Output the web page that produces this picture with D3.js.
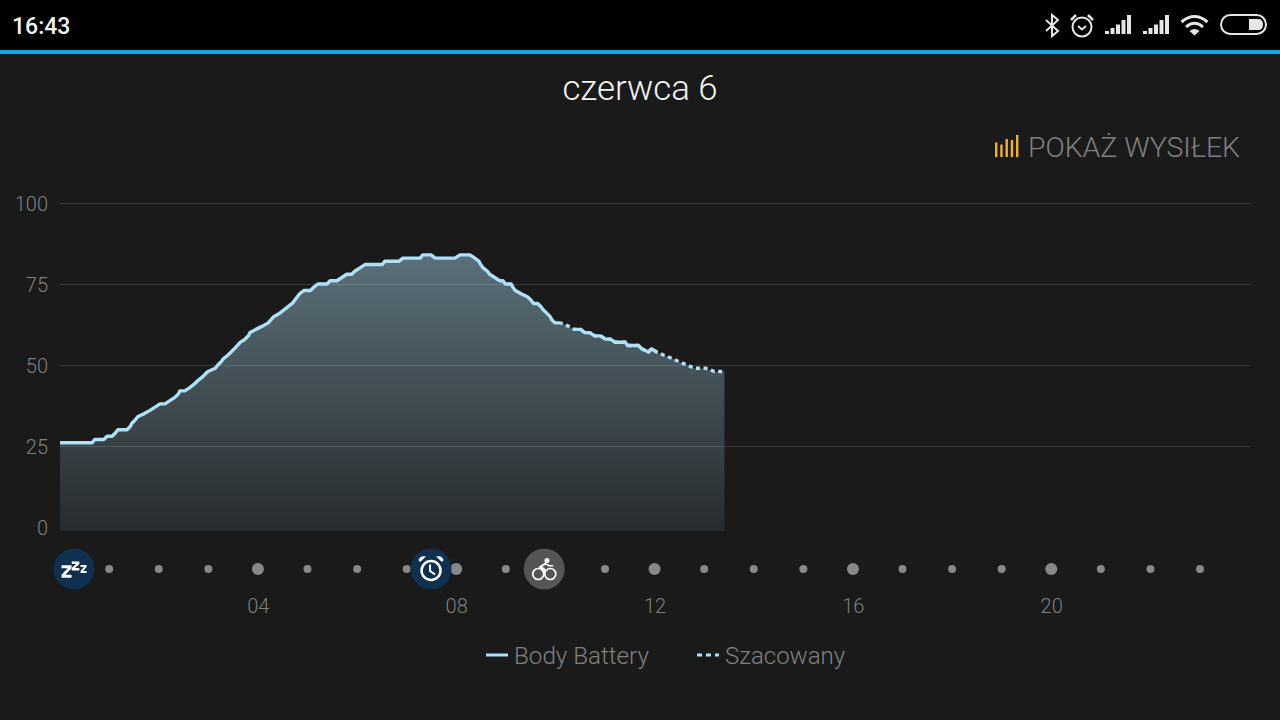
<!DOCTYPE html>
<html><head><meta charset="utf-8">
<script src="https://cdn.jsdelivr.net/npm/d3@7/dist/d3.min.js"></script>
<style>
html,body{margin:0;padding:0;background:#1a1a1a;overflow:hidden}
svg{display:block}
text{font-family:Roboto,sans-serif}
</style></head><body>
<svg id="c" width="1280" height="720"></svg>
<script>
const minutes=[0,39,42,53,57,63,67,70,81,85,87,91,94,102,109,115,121,127,133,139,143,145,151,157,162,166,171,175,179,188,191,195,198,203,207,211,218,224,228,230,237,245,252,259,266,271,276,281,287,290,295,303,307,312,323,327,335,341,347,353,357,363,369,390,393,410,415,436,439,449,454,478,484,496,502,507,509,512,517,520,526,532,536,539,546,548,551,558,566,570,573,578,582,585,589,593,595,599,606,615,622,630,635,641,647,654,660,666,672,684,687,700,704,712,716,722,731,741,749,759,768,781,792,801,804];
const values=[26,26,27,27,28,28,29,30,30,31,32,33,34,35,36,37,38,38,39,40,41,42,42,43,44,45,46,47,48,49,50,51,52,53,54,55,57,58,59,60,61,62,63,65,66,67,68,69,71,72,73,73,74,75,75,76,76,77,78,78,79,80,81,81,82,82,83,83,84,84,83,83,84,84,83,82,81,80,79,78,77,76,76,75,75,74,73,72,71,70,69,69,68,67,66,65,64,63,63,62,61,61,60,60,59,59,58,58,57,57,56,56,55,54,55,54,53,52,51,50,49,49,48,48,48];
const measuredRanges=[[0,606],[622,722]];
const estimatedRange=[606,804];
const yTicks=[0,25,50,75,100];
const hourLabels=[4,8,12,16,20];
const hourDots=d3.range(1,24);
const legendItems=["Body Battery","Szacowany"];
const effortBars=[14.5,12.5,18,17,22];
const LINE="#aee1f7",TXT="#808080";

const svg=d3.select("#c");
const x=d3.scaleLinear().domain([0,1440]).range([60,1250]);
const y=d3.scaleLinear().domain([-1.235,100]).range([531,203]);
const pts=minutes.map((m,i)=>({m,v:values[i]}));

svg.append("rect").attr("width",1280).attr("height",720).attr("fill","#1a1a1a");
// status bar
svg.append("rect").attr("width",1280).attr("height",50).attr("fill","#000");
svg.append("rect").attr("y",50).attr("width",1280).attr("height",4).attr("fill","#0ea5e6");
svg.append("text").attr("x",12).attr("y",34).attr("fill","#f2f2f2").attr("font-size",23).attr("font-weight",500).text("16:43");
const sb=svg.append("g").attr("fill","none").attr("stroke","#e6e6e6").attr("stroke-width",2);
sb.append("path").attr("d","M1046 20L1058 31L1052 36V15L1058 20L1046 31");
sb.append("circle").attr("cx",1082).attr("cy",27).attr("r",9.5);
sb.append("path").attr("d","M1078 26L1082 29.5L1086 26");
sb.append("path").attr("stroke-width",2.5).attr("d","M1071 20L1076 15M1093 20L1088 15");
[1105,1143].forEach(x0=>{
  [[0,3],[5.5,6],[11,9.5],[16.5,14],[22,19]].forEach(([d,h])=>
    svg.append("rect").attr("x",x0+d).attr("y",34-h).attr("width",4).attr("height",h).attr("fill","#e6e6e6"));
});
sb.append("path").attr("stroke-width",3).attr("d","M1181.5 22Q1194.5 11 1207.5 22M1186 27Q1194.5 19.500 1203 27");
svg.append("path").attr("fill","#e6e6e6").attr("d","M1189.500 31Q1194.500 27 1199.500 31L1194.500 35.500Z");
sb.append("rect").attr("x",1221).attr("y",15).attr("width",45).attr("height",19).attr("rx",9.5);
svg.append("path").attr("fill","#e6e6e6").attr("d","M1249 19H1258Q1263 19 1263 24.500Q1263 30 1258 30H1249Z");

// title
svg.append("text").attr("x",640).attr("y",100).attr("text-anchor","middle").attr("fill","#f4f4f4").attr("font-size",34.8).attr("font-weight",300).text("czerwca 6");
// button
effortBars.forEach((h,i)=>
  svg.append("rect").attr("x",995+i*5.25).attr("y",157-h).attr("width",2.4).attr("height",h).attr("fill","#f0b033"));
svg.append("text").attr("x",1240).attr("y",157).attr("text-anchor","end").attr("fill",TXT).attr("font-size",28.4).attr("font-weight",300).text("POKAŻ WYSIŁEK");

// area
const grad=svg.append("defs").append("linearGradient").attr("id","g").attr("gradientUnits","userSpaceOnUse")
  .attr("x1",0).attr("x2",0).attr("y1",y(84)).attr("y2",y.range()[0]);
grad.append("stop").attr("offset",0).attr("stop-color","#5b707a");
grad.append("stop").attr("offset",1).attr("stop-color","#272b2d");
svg.append("path").datum(pts).attr("fill","url(#g)")
  .attr("d",d3.area().x(d=>x(d.m)).y0(y.range()[0]).y1(d=>y(d.v)));

// y axis + grid
const ya=svg.append("g").attr("transform","translate(60,0)")
  .call(d3.axisLeft(y).tickValues(yTicks).tickSize(0).tickPadding(12));
ya.select(".domain").remove();
ya.selectAll("text").attr("fill",TXT).attr("font-size",20).attr("font-weight",300).attr("font-family","Roboto").attr("dy","0.36em");
ya.selectAll(".tick").filter(d=>d>0).append("line").attr("x1",0).attr("x2",1190).attr("stroke","#fff").attr("stroke-opacity",.14).attr("stroke-width",1.2);

// lines
const line=d3.line().x(d=>x(d.m)).y(d=>y(d.v));
svg.append("path").datum(pts.filter(d=>d.m>=estimatedRange[0]&&d.m<=estimatedRange[1]))
  .attr("fill","none").attr("stroke",LINE).attr("stroke-width",3.4).attr("stroke-dasharray","4 3.6").attr("stroke-dashoffset",2).attr("d",line);
measuredRanges.forEach(([a,b])=>{
  svg.append("path").datum(pts.filter(d=>d.m>=a&&d.m<=b))
    .attr("fill","none").attr("stroke",LINE).attr("stroke-width",3.4).attr("stroke-linejoin","round").attr("d",line);
});

// hour dots
svg.append("g").selectAll("circle").data(hourDots).join("circle")
  .attr("cx",h=>x(h*60)-0.4).attr("cy",569).attr("r",h=>h%4===0?6:4).attr("fill","#888");

// x axis labels
const xa=svg.append("g").attr("transform","translate(-0.5,598.500)")
  .call(d3.axisBottom(x).tickValues(hourLabels.map(h=>h*60)).tickSize(0).tickPadding(0).tickFormat(m=>d3.format("02d")(m/60)));
xa.select(".domain").remove();
xa.selectAll("text").attr("fill",TXT).attr("font-size",20).attr("font-weight",300).attr("font-family","Roboto").attr("dy","0.71em");

// event icons
const navy="#0f314f";
const ic1=svg.append("g").attr("transform",`translate(${x(17)},569)`);
ic1.append("circle").attr("r",20.5).attr("fill",navy);
function zed(g,cx,cy,w,h,t){g.append("path").attr("fill","#fff").attr("d",`M${cx-w} ${cy-h}H${cx+w}V${cy-h+t}L${cx-w+t*1.3} ${cy+h-t}H${cx+w}V${cy+h}H${cx-w}V${cy+h-t}L${cx+w-t*1.3} ${cy-h+t}H${cx-w}Z`);}
zed(ic1,-7.500,2.500,5,6.300,3);zed(ic1,1.500,-3,3.800,4.500,2.400);zed(ic1,9.500,0,3,4,2);
const ic2=svg.append("g").attr("transform",`translate(${x(449)},569)`);
ic2.append("circle").attr("r",20.5).attr("fill",navy);
ic2.append("circle").attr("cy",1.5).attr("r",9.500).attr("fill","none").attr("stroke","#fff").attr("stroke-width",2.5);
ic2.append("path").attr("fill","none").attr("stroke","#fff").attr("stroke-width",2).attr("d","M-1 -4.500V2L4 5.500");
ic2.append("path").attr("fill","#fff").attr("d","M-11 -7L-5 -12.500Q-11 -14 -12.500 -9ZM11 -7L5 -12.500Q11 -14 12.500 -9Z");
const ic3=svg.append("g").attr("transform",`translate(${x(586)},569)`);
ic3.append("circle").attr("r",20.5).attr("fill","#555");
ic3.append("circle").attr("cx",-6).attr("cy",5).attr("r",5.500).attr("fill","none").attr("stroke","#fff").attr("stroke-width",1.700);
ic3.append("circle").attr("cx",6).attr("cy",5).attr("r",5.500).attr("fill","none").attr("stroke","#fff").attr("stroke-width",1.700);
ic3.append("circle").attr("cx",2.700).attr("cy",-8.500).attr("r",2.500).attr("fill","#fff");
ic3.append("path").attr("fill","#fff").attr("d","M1 -6.500L-6 -2L-1 1V5H1V0L-2 -2.500L2 -4.500L4 -2.500H9V-4H5Z");

// legend
svg.append("line").attr("x1",486).attr("x2",508).attr("y1",655).attr("y2",655).attr("stroke",LINE).attr("stroke-width",3);
svg.append("text").attr("x",514).attr("y",664).attr("fill",TXT).attr("font-size",24.2).attr("font-weight",300).text(legendItems[0]);
svg.append("line").attr("x1",697).attr("x2",719).attr("y1",655).attr("y2",655).attr("stroke",LINE).attr("stroke-width",3).attr("stroke-dasharray","5 4");
svg.append("text").attr("x",725).attr("y",664).attr("fill",TXT).attr("font-size",24).attr("font-weight",300).text(legendItems[1]);
</script>
</body></html>
